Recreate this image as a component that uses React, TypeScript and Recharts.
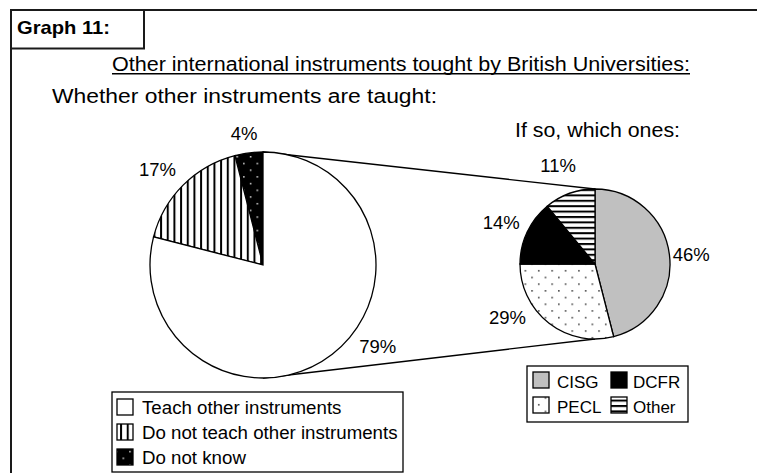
import React from 'react';
import { PieChart, Pie, Cell, Customized } from 'recharts';

// Left pie: whether other instruments are taught
const mainNames = ['Teach other instruments', 'Do not teach other instruments', 'Do not know'];
const mainValues = [79, 17, 4];

// Right pie: if so, which ones
const otherNames = ['CISG', 'PECL', 'DCFR', 'Other'];
const otherValues = [46, 29, 14, 11];

const graphLabel = 'Graph 11:';
const title = 'Other international instruments tought by British Universities:';
const leftTitle = 'Whether other instruments are taught:';
const rightTitle = 'If so, which ones:';

const FONT = "'Liberation Sans', Arial, sans-serif";

const mainFills = ['#ffffff', 'url(#vstripe)', 'url(#blackdots)'];
const otherFills = ['#c0c0c0', 'url(#whitedots)', '#000000', 'url(#hstripe)'];

// pie geometry
const BIG = { cx: 263, cy: 265, r: 113 };
const SMALL = { cx: 595, cy: 264, r: 75 };

// small nudges so labels sit where Excel put them
const labelNudge: Record<string, [number, number]> = {
    'Do not know': [-2, 2],
    'Do not teach other instruments': [-10, 0],
    'Teach other instruments': [32, -25],
    CISG: [0, 3],
    PECL: [-28, -23],
    DCFR: [-6, 0],
    Other: [-4, -7],
};

const mainData = mainNames.map((name, i) => ({ name, value: mainValues[i], fill: mainFills[i] }));
// drawn from 12 o'clock counter-clockwise: Do not know, Do not teach, Teach
const mainPieData = [...mainData].reverse();
const otherData = otherNames.map((name, i) => ({ name, value: otherValues[i], fill: otherFills[i] }));

const renderLabel = (props: any) => {
    const { cx, cy, midAngle, outerRadius, name, value } = props;
    const RAD = Math.PI / 180;
    const d = outerRadius + 22;
    const [nx, ny] = labelNudge[name] ?? [0, 0];
    const x = cx + d * Math.cos(-midAngle * RAD) + nx;
    const y = cy + d * Math.sin(-midAngle * RAD) + ny;
    return (
        <text x={x} y={y + 6.5} textAnchor="middle" fontSize={18.5} fill="#000" fontFamily={FONT}>
            {value}%
        </text>
    );
};

const Overlay = () => (
    <g>
        <defs>
            <pattern id="vstripe" patternUnits="userSpaceOnUse" width={6.67} height={10}>
                <rect width={6.67} height={10} fill="#fff" />
                <rect x={0} width={2} height={10} fill="#000" />
            </pattern>
            <pattern id="hstripe" patternUnits="userSpaceOnUse" width={10} height={5.4}>
                <rect width={10} height={5.4} fill="#fff" />
                <rect y={0} width={10} height={2} fill="#000" />
            </pattern>
            <pattern id="blackdots" patternUnits="userSpaceOnUse" width={13.4} height={13.4}>
                <rect width={13.4} height={13.4} fill="#000" />
                <rect x={2} y={2} width={1.4} height={1.4} fill="#fff" />
                <rect x={8.7} y={8.7} width={1.4} height={1.4} fill="#fff" />
            </pattern>
            <pattern id="whitedots" patternUnits="userSpaceOnUse" width={13.4} height={13.4}>
                <rect width={13.4} height={13.4} fill="#fff" />
                <rect x={2} y={2} width={1.5} height={1.5} fill="#333" />
                <rect x={8.7} y={8.7} width={1.5} height={1.5} fill="#333" />
            </pattern>
        </defs>

        {/* frame */}
        <rect x={11} y={10} width={800} height={500} fill="none" stroke="#1a1a1a" strokeWidth={2} />
        <rect x={11} y={10} width={133} height={38.5} fill="none" stroke="#1a1a1a" strokeWidth={2} />
        <text x={17} y={34} fontSize={19} fontWeight="bold" fontFamily={FONT} textLength={93} lengthAdjust="spacingAndGlyphs">
            {graphLabel}
        </text>

        {/* titles */}
        <text x={112} y={71} fontSize={19.5} fontFamily={FONT} textLength={578} lengthAdjust="spacingAndGlyphs">
            {title}
        </text>
        <line x1={112} x2={690} y1={73.8} y2={73.8} stroke="#000" strokeWidth={1.4} />
        <text x={52} y={103} fontSize={19.5} fontFamily={FONT} textLength={385} lengthAdjust="spacingAndGlyphs">
            {leftTitle}
        </text>
        <text x={515} y={137} fontSize={19.5} fontFamily={FONT} textLength={165} lengthAdjust="spacingAndGlyphs">
            {rightTitle}
        </text>

        {/* connector lines between the two pies */}
        <line x1={BIG.cx} y1={BIG.cy - BIG.r} x2={SMALL.cx} y2={SMALL.cy - SMALL.r} stroke="#000" strokeWidth={1.3} />
        <line x1={BIG.cx} y1={BIG.cy + BIG.r} x2={SMALL.cx} y2={SMALL.cy + SMALL.r} stroke="#000" strokeWidth={1.3} />

        {/* legend for left pie */}
        <rect x={112} y={392} width={291} height={80} fill="#fff" stroke="#000" strokeWidth={1.3} />
        {mainData.map((d, i) => (
            <g key={d.name}>
                <rect x={117} y={399 + i * 25} width={16} height={16} fill={d.fill} stroke="#000" strokeWidth={1.3} />
                <text x={142} y={414 + i * 25} fontSize={18.7} fontFamily={FONT} fill="#000">
                    {d.name}
                </text>
            </g>
        ))}

        {/* legend for right pie */}
        <rect x={527} y={366} width={161} height={56} fill="#fff" stroke="#000" strokeWidth={1.3} />
        {otherData.map((d, i) => {
            const col = Math.floor(i / 2);
            const row = i % 2;
            return (
                <g key={d.name}>
                    <rect x={533 + col * 78} y={372 + row * 25} width={16} height={16} fill={d.fill} stroke="#000" strokeWidth={1.3} />
                    <text x={557 + col * 76} y={388 + row * 25} fontSize={17} fontFamily={FONT} fill="#000">
                        {d.name}
                    </text>
                </g>
            );
        })}
    </g>
);

export default function App() {
    return (
        <div style={{ position: 'absolute', left: 0, top: 0, width: 757, height: 473, background: '#fff' }}>
            <PieChart width={757} height={473} margin={{ top: 0, right: 0, bottom: 0, left: 0 }}>
                <Customized component={Overlay} />
                <Pie
                    data={mainPieData}
                    dataKey="value"
                    nameKey="name"
                    cx={BIG.cx}
                    cy={BIG.cy}
                    outerRadius={BIG.r}
                    startAngle={90}
                    endAngle={450}
                    stroke="#000"
                    strokeWidth={1.3}
                    label={renderLabel}
                    labelLine={false}
                    isAnimationActive={false}
                >
                    {mainPieData.map((d) => (
                        <Cell key={d.name} fill={d.fill} />
                    ))}
                </Pie>
                <Pie
                    data={otherData}
                    dataKey="value"
                    nameKey="name"
                    cx={SMALL.cx}
                    cy={SMALL.cy}
                    outerRadius={SMALL.r}
                    startAngle={90}
                    endAngle={-270}
                    stroke="#000"
                    strokeWidth={1.3}
                    label={renderLabel}
                    labelLine={false}
                    isAnimationActive={false}
                >
                    {otherData.map((d) => (
                        <Cell key={d.name} fill={d.fill} />
                    ))}
                </Pie>
            </PieChart>
        </div>
    );
}
